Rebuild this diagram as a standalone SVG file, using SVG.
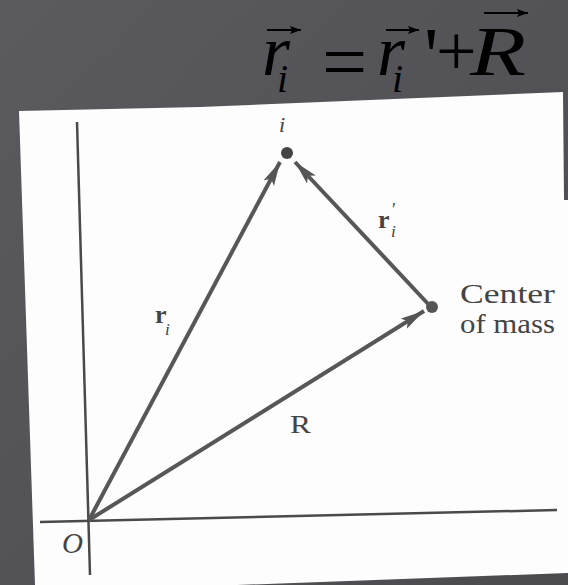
<svg xmlns="http://www.w3.org/2000/svg" width="568" height="585" viewBox="0 0 568 585">
<defs>
<linearGradient id="bg" x1="0" y1="0" x2="1" y2="1">
<stop offset="0" stop-color="#5b5a5f"/>
<stop offset="1" stop-color="#4b4a4f"/>
</linearGradient>
<marker id="ah" markerUnits="userSpaceOnUse" markerWidth="26" markerHeight="14" refX="24" refY="6" orient="auto">
<path d="M0,0 L24,6 L0,12 L5,6 z" fill="#555"/>
</marker>
<marker id="eqa" markerUnits="userSpaceOnUse" markerWidth="12" markerHeight="10" refX="11" refY="4" orient="auto">
<path d="M0,0 L11,4 L0,8 L2,4 z" fill="#000"/>
</marker>
<style>
text{font-family:'Liberation Serif','DejaVu Serif',serif;}
.eq{fill:#000;}
.lbl{fill:#444;}
.vec{stroke:#575757;stroke-width:4;fill:none;marker-end:url(#ah);}
.axis{stroke:#4a4a4a;stroke-width:2.5;fill:none;}
.eqarrow{stroke:#000;stroke-width:2;marker-end:url(#eqa);}
</style>
</defs>
<rect width="568" height="585" fill="url(#bg)"/>
<polygon points="19,111 200,107 563,92 564,200 568,200 568,573 237,585 35,585" fill="#fdfdfd"/>

<g id="equation">
<text class="eq"><tspan x="262" y="75" font-size="72" font-style="italic">r</tspan><tspan x="277" y="92" font-size="40" font-style="italic">i</tspan><tspan x="322" y="89" font-size="80">=</tspan><tspan x="377" y="75" font-size="72" font-style="italic">r</tspan><tspan x="392" y="92" font-size="40" font-style="italic">i</tspan><tspan x="424" y="83" font-size="80">'</tspan><tspan x="436" y="75" font-size="72">+</tspan><tspan x="470" y="75" font-size="70" font-style="italic" textLength="56" lengthAdjust="spacingAndGlyphs">R</tspan></text>
<line class="eqarrow" x1="267" y1="30" x2="301" y2="30"/>
<line class="eqarrow" x1="386" y1="30" x2="419" y2="30"/>
<line class="eqarrow" x1="484" y1="13" x2="528" y2="13"/>
</g>

<g id="axes">
<line class="axis" x1="77" y1="122" x2="90" y2="575"/>
<line class="axis" x1="40" y1="522" x2="557" y2="510"/>
</g>

<g id="connectors">
<line class="vec" x1="89" y1="520" x2="280" y2="162"/>
<line class="vec" x1="431" y1="307" x2="295" y2="162"/>
<line class="vec" x1="89" y1="520" x2="424" y2="311"/>
</g>

<g id="node-i">
<circle cx="287" cy="153" r="6" fill="#444"/>
<text class="lbl" x="282" y="132" font-size="22" font-style="italic" text-anchor="middle">i</text>
</g>
<g id="node-com">
<circle cx="432" cy="307" r="6" fill="#555"/>
<text class="lbl" x="460" y="303" font-size="27" textLength="95" lengthAdjust="spacingAndGlyphs">Center</text>
<text class="lbl" x="460" y="333" font-size="27" textLength="95" lengthAdjust="spacingAndGlyphs">of mass</text>
</g>
<g id="node-origin">
<text class="lbl" x="62" y="553" font-size="29" font-style="italic">O</text>
</g>

<g id="labels">
<text class="lbl"><tspan x="155" y="323" font-size="26" font-weight="bold">r</tspan><tspan x="165" y="335" font-size="17" font-style="italic">i</tspan></text>
<text class="lbl"><tspan x="378" y="228" font-size="26" font-weight="bold">r</tspan><tspan x="392" y="216" font-size="18">′</tspan><tspan x="391" y="237" font-size="17" font-style="italic">i</tspan></text>
<text class="lbl" x="290" y="433" font-size="25" textLength="21" lengthAdjust="spacingAndGlyphs">R</text>
</g>
</svg>
